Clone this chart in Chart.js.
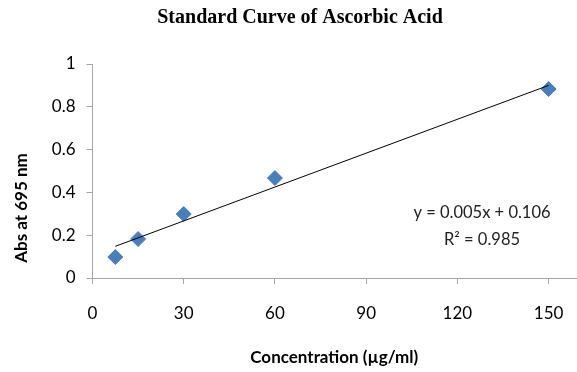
<!DOCTYPE html>
<html>
<head>
<meta charset="utf-8">
<script src="https://cdn.jsdelivr.net/npm/chart.js@4/dist/chart.umd.min.js"></script>
<style>
  html, body { margin: 0; padding: 0; background: #fff; }
  canvas { display: block; }
</style>
</head>
<body>
<canvas id="chart" width="577" height="372"></canvas>
<script>
// =========================
//  DATA
// =========================
const concentration = [7.5, 15, 30, 60, 150];
const absorbance = [0.098, 0.182, 0.299, 0.467, 0.883];

// trendline end points as drawn
const trendX = [7.5, 150];
const trendY = [0.148, 0.90];

const xTicks = [0, 30, 60, 90, 120, 150];
const yTicks = [0, 0.2, 0.4, 0.6, 0.8, 1];

const chartTitle = "Standard Curve of Ascorbic Acid";
const equationLines = ["y = 0.005x + 0.106", "R\u00B2 = 0.985"];

// =========================
//  HELPERS
// =========================
const axisGrey = "#a6a6a6";
const tickFont = { family: "Lato", size: 17 };

function toPoints(xs, ys) {
    return xs.map((x, i) => ({ x, y: ys[i] }));
}

// title, y-axis title + equation box, placed by hand like Excel does
const textPlugin = {
    id: "extraText",
    afterDraw(chart) {
        const ctx = chart.ctx;
        ctx.save();
        ctx.fillStyle = "#000";
        ctx.textAlign = "center";
        ctx.textBaseline = "middle";

        // chart title (Excel centres it a bit right of the canvas middle)
        ctx.font = "bold 20px 'Liberation Serif'";
        ctx.fillText(chartTitle, 300, 18);

        // y axis title
        ctx.font = "bold 17px Lato";
        ctx.translate(22, 208);
        ctx.rotate(-Math.PI / 2);
        ctx.fillText("Abs at 695 nm", 0, 0);
        ctx.setTransform(1, 0, 0, 1, 0, 0);

        // equation
        ctx.font = "16.5px Lato";
        ctx.fillStyle = "#222";
        ctx.fillText(equationLines[0], 482, 213);
        ctx.fillText(equationLines[1], 482, 240);
        ctx.restore();
    }
};

// =========================
//  CHART
// =========================
new Chart(document.getElementById("chart"), {
    type: "scatter",
    data: {
        datasets: [
            {
                type: "line",
                data: toPoints(trendX, trendY),
                borderColor: "#000",
                borderWidth: 1,
                pointRadius: 0,
                fill: false,
                order: 0
            },
            {
                data: toPoints(concentration, absorbance),
                pointStyle: "rectRot",
                pointRadius: 7.5,
                pointHoverRadius: 7.5,
                backgroundColor: "#4a7ebb",
                borderColor: "#4a7ebb",
                borderWidth: 1,
                order: 1
            }
        ]
    },
    options: {
        responsive: false,
        animation: false,
        layout: {
            autoPadding: false,
            padding: { left: 0, right: 1, top: 64, bottom: 0 }
        },
        plugins: {
            legend: { display: false },
            tooltip: { enabled: false },
            title: { display: false }
        },
        scales: {
            x: {
                type: "linear",
                min: 0,
                max: 159,
                afterBuildTicks: scale => {
                    scale.ticks = xTicks.map(v => ({ value: v }));
                },
                afterFit: scale => {
                    scale.height = 94;
                    scale.paddingLeft = 0;
                    scale.paddingRight = 0;
                },
                grid: {
                    display: true,
                    drawOnChartArea: false,
                    drawTicks: true,
                    tickLength: 6,
                    color: axisGrey
                },
                border: { display: true, color: axisGrey, width: 1 },
                ticks: {
                    color: "#000",
                    font: tickFont,
                    padding: 19,
                    maxRotation: 0
                },
                title: {
                    display: true,
                    text: "Concentration (\u00B5g/ml)",
                    color: "#000",
                    font: { family: "Lato", size: 17, weight: "bold" },
                    padding: { top: 0, bottom: 4 }
                }
            },
            y: {
                min: 0,
                max: 1,
                afterBuildTicks: scale => {
                    scale.ticks = yTicks.map(v => ({ value: v }));
                },
                afterFit: scale => { scale.width = 92.5; },
                grid: {
                    display: true,
                    drawOnChartArea: false,
                    drawTicks: true,
                    tickLength: 6,
                    color: axisGrey
                },
                border: { display: true, color: axisGrey, width: 1 },
                ticks: {
                    color: "#000",
                    font: tickFont,
                    padding: 11,
                    callback: v => String(Math.round(v * 10) / 10)
                }
            }
        }
    },
    plugins: [textPlugin]
});
</script>
</body>
</html>
